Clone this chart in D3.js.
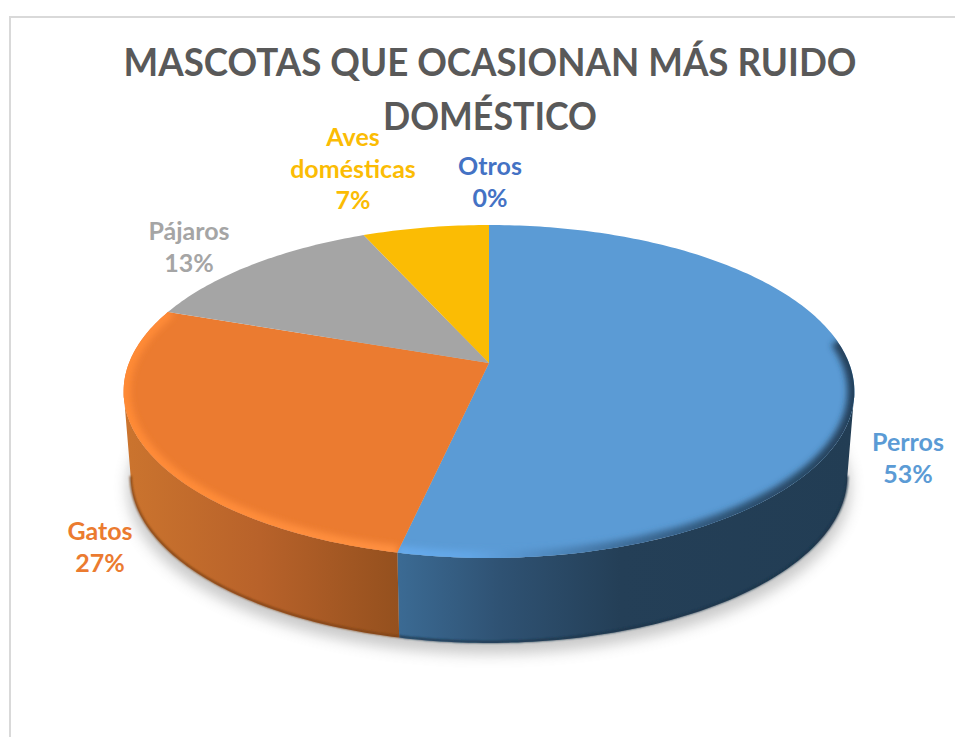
<!DOCTYPE html>
<html>
<head>
<meta charset="utf-8">
<script src="https://cdn.jsdelivr.net/npm/d3@7"></script>
<style>
  html, body { margin: 0; padding: 0; background: #fff; overflow: hidden; }
  svg { display: block; font-family: Lato, "Open Sans", sans-serif; font-weight: 700; }
</style>
</head>
<body>
<script>
var categories = ['Perros', 'Gatos', 'Pájaros', 'Aves domésticas', 'Otros'];
var values = [53.4, 27, 13, 6.6, 0];
var colors = ['#5b9bd5', '#eb7b30', '#a5a5a5', '#fbbc04', '#4472c4'];
var titleLines = ['MASCOTAS QUE OCASIONAN MÁS RUIDO', 'DOMÉSTICO'];

var width = 955;
var height = 737;

var svg = d3.select('body').append('svg')
  .attr('width', width)
  .attr('height', height);

var defs = svg.append('defs');

// Pie lying on its back: the far side is squeezed, so the apex sits above the ellipse centre.
var apex_x = 489;
var apex_y = 363;
var persp = 0.171;
var stretch_x = 360;
var stretch_y = 161.6;
var depth = 85;

var project = function(angle, drop, narrow) {
  var u = Math.sin(angle);
  var v = -Math.cos(angle);
  var w = 1 - persp * v;
  return [
    apex_x + (stretch_x - narrow) * u / w,
    apex_y + stretch_y * v / w + drop
  ];
};

var line = d3.line();

// points along the rim between two pie angles
var rim = function(a0, a1, drop, narrow) {
  var steps = Math.max(2, Math.ceil(Math.abs(a1 - a0) * 60));
  return d3.range(steps + 1).map(function(i) {
    return project(a0 + (a1 - a0) * i / steps, drop, narrow);
  });
};

var pie = d3.pie().sort(null).value(function(d) { return d; });
var slices = pie(values);

var deg = Math.PI / 180;
var front_from = 100 * deg;
var front_to = 260 * deg;

// filters
var addBlur = function(id, amount) {
  defs.append('filter').attr('id', id)
    .attr('x', '-20%').attr('y', '-20%').attr('width', '140%').attr('height', '140%')
    .append('feGaussianBlur').attr('stdDeviation', amount);
};
addBlur('shadow-blur', 7);
addBlur('rim-blur', 3);
addBlur('edge-blur', 0.8);

// horizontal gradient helper, in page coordinates
var addGradient = function(id, stops) {
  var g = defs.append('linearGradient').attr('id', id)
    .attr('gradientUnits', 'userSpaceOnUse')
    .attr('x1', 125).attr('x2', 855).attr('y1', 0).attr('y2', 0);
  stops.forEach(function(s) {
    g.append('stop').attr('offset', (s[0] - 125) / 730).attr('stop-color', s[1]);
  });
};
addGradient('side-orange', [[125, '#cb742e'], [260, '#b8622a'], [400, '#94501e']]);
addGradient('side-blue', [[400, '#3b6a93'], [500, '#2f5273'], [620, '#243f57'], [855, '#223d54']]);
addGradient('rim-orange', [[125, '#ff8a36'], [400, '#ff9040']]);
addGradient('rim-blue', [[400, '#66aaec'], [470, '#62a6e6'], [620, '#3f6f9c'], [740, '#2c5070'], [855, '#24405a']]);

var sideFill = ['url(#side-blue)', 'url(#side-orange)'];
var rimStroke = ['url(#rim-blue)', 'url(#rim-orange)'];
var edgeColor = ['#1d3448', '#7a4015'];

// frame of the chart area
svg.append('path')
  .attr('d', line([[10, height], [10, 17], [width, 17]]))
  .attr('fill', 'none')
  .attr('stroke', '#d9d9d9')
  .attr('stroke-width', 2);

// title, squeezed to the width it has in the picture
var titleFit = [733, 214];
svg.selectAll('text.title').data(titleLines).enter().append('text')
  .attr('class', 'title')
  .attr('x', 490)
  .attr('y', function(d, i) { return 76 + i * 54; })
  .attr('text-anchor', 'middle')
  .attr('fill', '#595959')
  .attr('font-size', 38)
  .attr('textLength', function(d, i) { return titleFit[i]; })
  .attr('lengthAdjust', 'spacingAndGlyphs')
  .text(function(d) { return d; });

// shadow under the pie
svg.append('path')
  .attr('d', line(rim(0, 2 * Math.PI, depth + 11, 4)) + 'Z')
  .attr('fill', '#8f8f8f')
  .attr('opacity', 0.48)
  .attr('filter', 'url(#shadow-blur)');

// sides, only the two slices that reach the front
var sides = svg.append('g');
slices.forEach(function(s, i) {
  var a0 = Math.max(s.startAngle, front_from);
  var a1 = Math.min(s.endAngle, front_to);
  if (a1 <= a0) return;
  var top = rim(a0, a1, 0, 0);
  var bottom = rim(a1, a0, depth, 7);
  sides.append('path')
    .attr('d', line(top.concat(bottom)) + 'Z')
    .attr('fill', sideFill[i]);
  sides.append('path')
    .attr('d', line(rim(a0, a1, depth - 1, 7)))
    .attr('fill', 'none')
    .attr('stroke', edgeColor[i])
    .attr('stroke-width', 2)
    .attr('filter', 'url(#edge-blur)');
});

// top face
var faces = svg.append('g');
slices.forEach(function(s, i) {
  if (s.endAngle - s.startAngle === 0) return;
  var outline = [[apex_x, apex_y]].concat(rim(s.startAngle, s.endAngle, 0, 0));
  var d = line(outline) + 'Z';
  defs.append('clipPath').attr('id', 'face-' + i).append('path').attr('d', d);
  faces.append('path')
    .attr('d', d)
    .attr('fill', colors[i]);
});

// soft bevel running along the rim
var bevel = [
  { slice: 0, from: 82 * deg, to: slices[0].endAngle },
  { slice: 1, from: slices[1].startAngle, to: 290 * deg }
];
bevel.forEach(function(b) {
  faces.append('g')
    .attr('clip-path', 'url(#face-' + b.slice + ')')
    .append('path')
    .attr('d', line(rim(b.from, b.to, 0, 0)))
    .attr('fill', 'none')
    .attr('stroke', rimStroke[b.slice])
    .attr('stroke-width', 14)
    .attr('filter', 'url(#rim-blur)');
});

// data labels
var labelLines = [['Perros'], ['Gatos'], ['Pájaros'], ['Aves', 'domésticas'], ['Otros']];
var labelAt = [[908, 451], [100, 540], [189, 240], [353, 146], [490, 175]];

var labels = svg.selectAll('text.label').data(slices).enter().append('text')
  .attr('class', 'label')
  .attr('text-anchor', 'middle')
  .attr('font-size', 25)
  .attr('fill', function(d, i) { return colors[i]; });

labels.each(function(d, i) {
  var rows = labelLines[i].concat([d3.format('.0f')(d.value) + '%']);
  d3.select(this).selectAll('tspan').data(rows).enter().append('tspan')
    .attr('x', labelAt[i][0])
    .attr('y', function(r, j) { return labelAt[i][1] + j * 31.5; })
    .text(function(r) { return r; });
});
</script>
</body>
</html>
